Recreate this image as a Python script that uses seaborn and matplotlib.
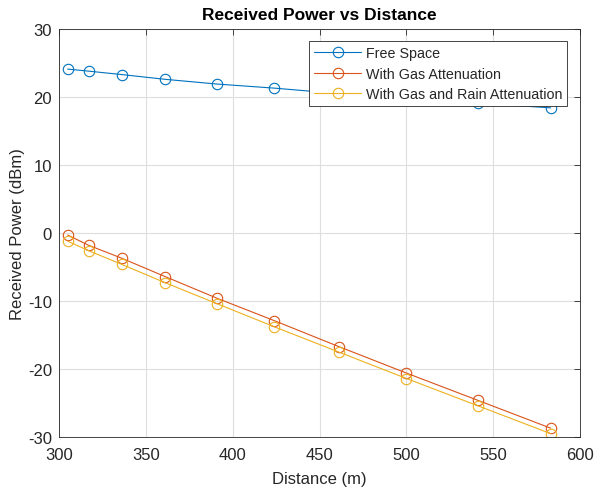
import matplotlib
matplotlib.use("Agg")
import matplotlib.pyplot as plt
import seaborn as sns
import pandas as pd

distance = [305, 317, 336, 361, 391, 424, 461, 500, 541, 583]
free_space = [24.1, 23.8, 23.3, 22.6, 21.9, 21.3, 20.5, 19.8, 19.1, 18.4]
gas_atten = [-0.3, -1.8, -3.7, -6.4, -9.6, -12.9, -16.7, -20.6, -24.6, -28.7]
gas_rain_atten = [-1.2, -2.6, -4.6, -7.3, -10.4, -13.8, -17.5, -21.4, -25.4, -29.5]

series_names = ["Free Space", "With Gas Attenuation", "With Gas and Rain Attenuation"]
colors = ["#0072BD", "#D95319", "#EDB120"]

x_ticks = [300, 350, 400, 450, 500, 550, 600]
y_ticks = [-30, -20, -10, 0, 10, 20, 30]

df = pd.DataFrame({
    "Distance": distance * 3,
    "Power": free_space + gas_atten + gas_rain_atten,
    "Series": [series_names[0]] * 10 + [series_names[1]] * 10 + [series_names[2]] * 10,
})

sns.set_theme(style="white")
plt.rcParams["font.family"] = ["Liberation Sans", "DejaVu Sans"]
plt.rcParams["axes.unicode_minus"] = False

fig = plt.figure(figsize=(6.05, 4.89), dpi=100)
ax = fig.add_axes([0.0975, 0.1043, 0.8615, 0.8344])

for name, col in zip(series_names, colors):
    sub = df[df["Series"] == name]
    sns.lineplot(data=sub, x="Distance", y="Power", ax=ax, color=col, linewidth=0.8,
                 marker="o", markersize=7.5, markerfacecolor="none",
                 markeredgecolor=col, markeredgewidth=0.8, label=name)

ax.set_xlim(300, 600)
ax.set_ylim(-30, 30)
ax.set_xticks(x_ticks)
ax.set_yticks(y_ticks)
ax.grid(True, color="#dedede", linewidth=0.8)
ax.set_axisbelow(True)
ax.tick_params(direction="in", length=4, width=0.6, color="#262626",
               top=True, right=True, labelsize=12, labelcolor="#262626")
ax.tick_params(axis="x", pad=7)
ax.tick_params(axis="y", pad=5)
for s in ax.spines.values():
    s.set_color("#262626")
    s.set_linewidth(0.6)

ax.set_xlabel("Distance (m)", fontsize=12, color="#262626", labelpad=7)
ax.set_ylabel("Received Power (dBm)", fontsize=12, color="#262626", labelpad=2)
ax.set_title("Received Power vs Distance", fontsize=12.5, fontweight="bold", color="black", pad=7)

leg = ax.legend(loc="upper right", bbox_to_anchor=(0.975, 0.97), fontsize=10.3,
                frameon=True, fancybox=False, edgecolor="#262626", framealpha=1,
                borderpad=0.35, labelspacing=0.45, handlelength=3.3, handletextpad=0.3,
                borderaxespad=0)
leg.get_frame().set_linewidth(0.6)

fig.savefig("out.png", dpi=100)
